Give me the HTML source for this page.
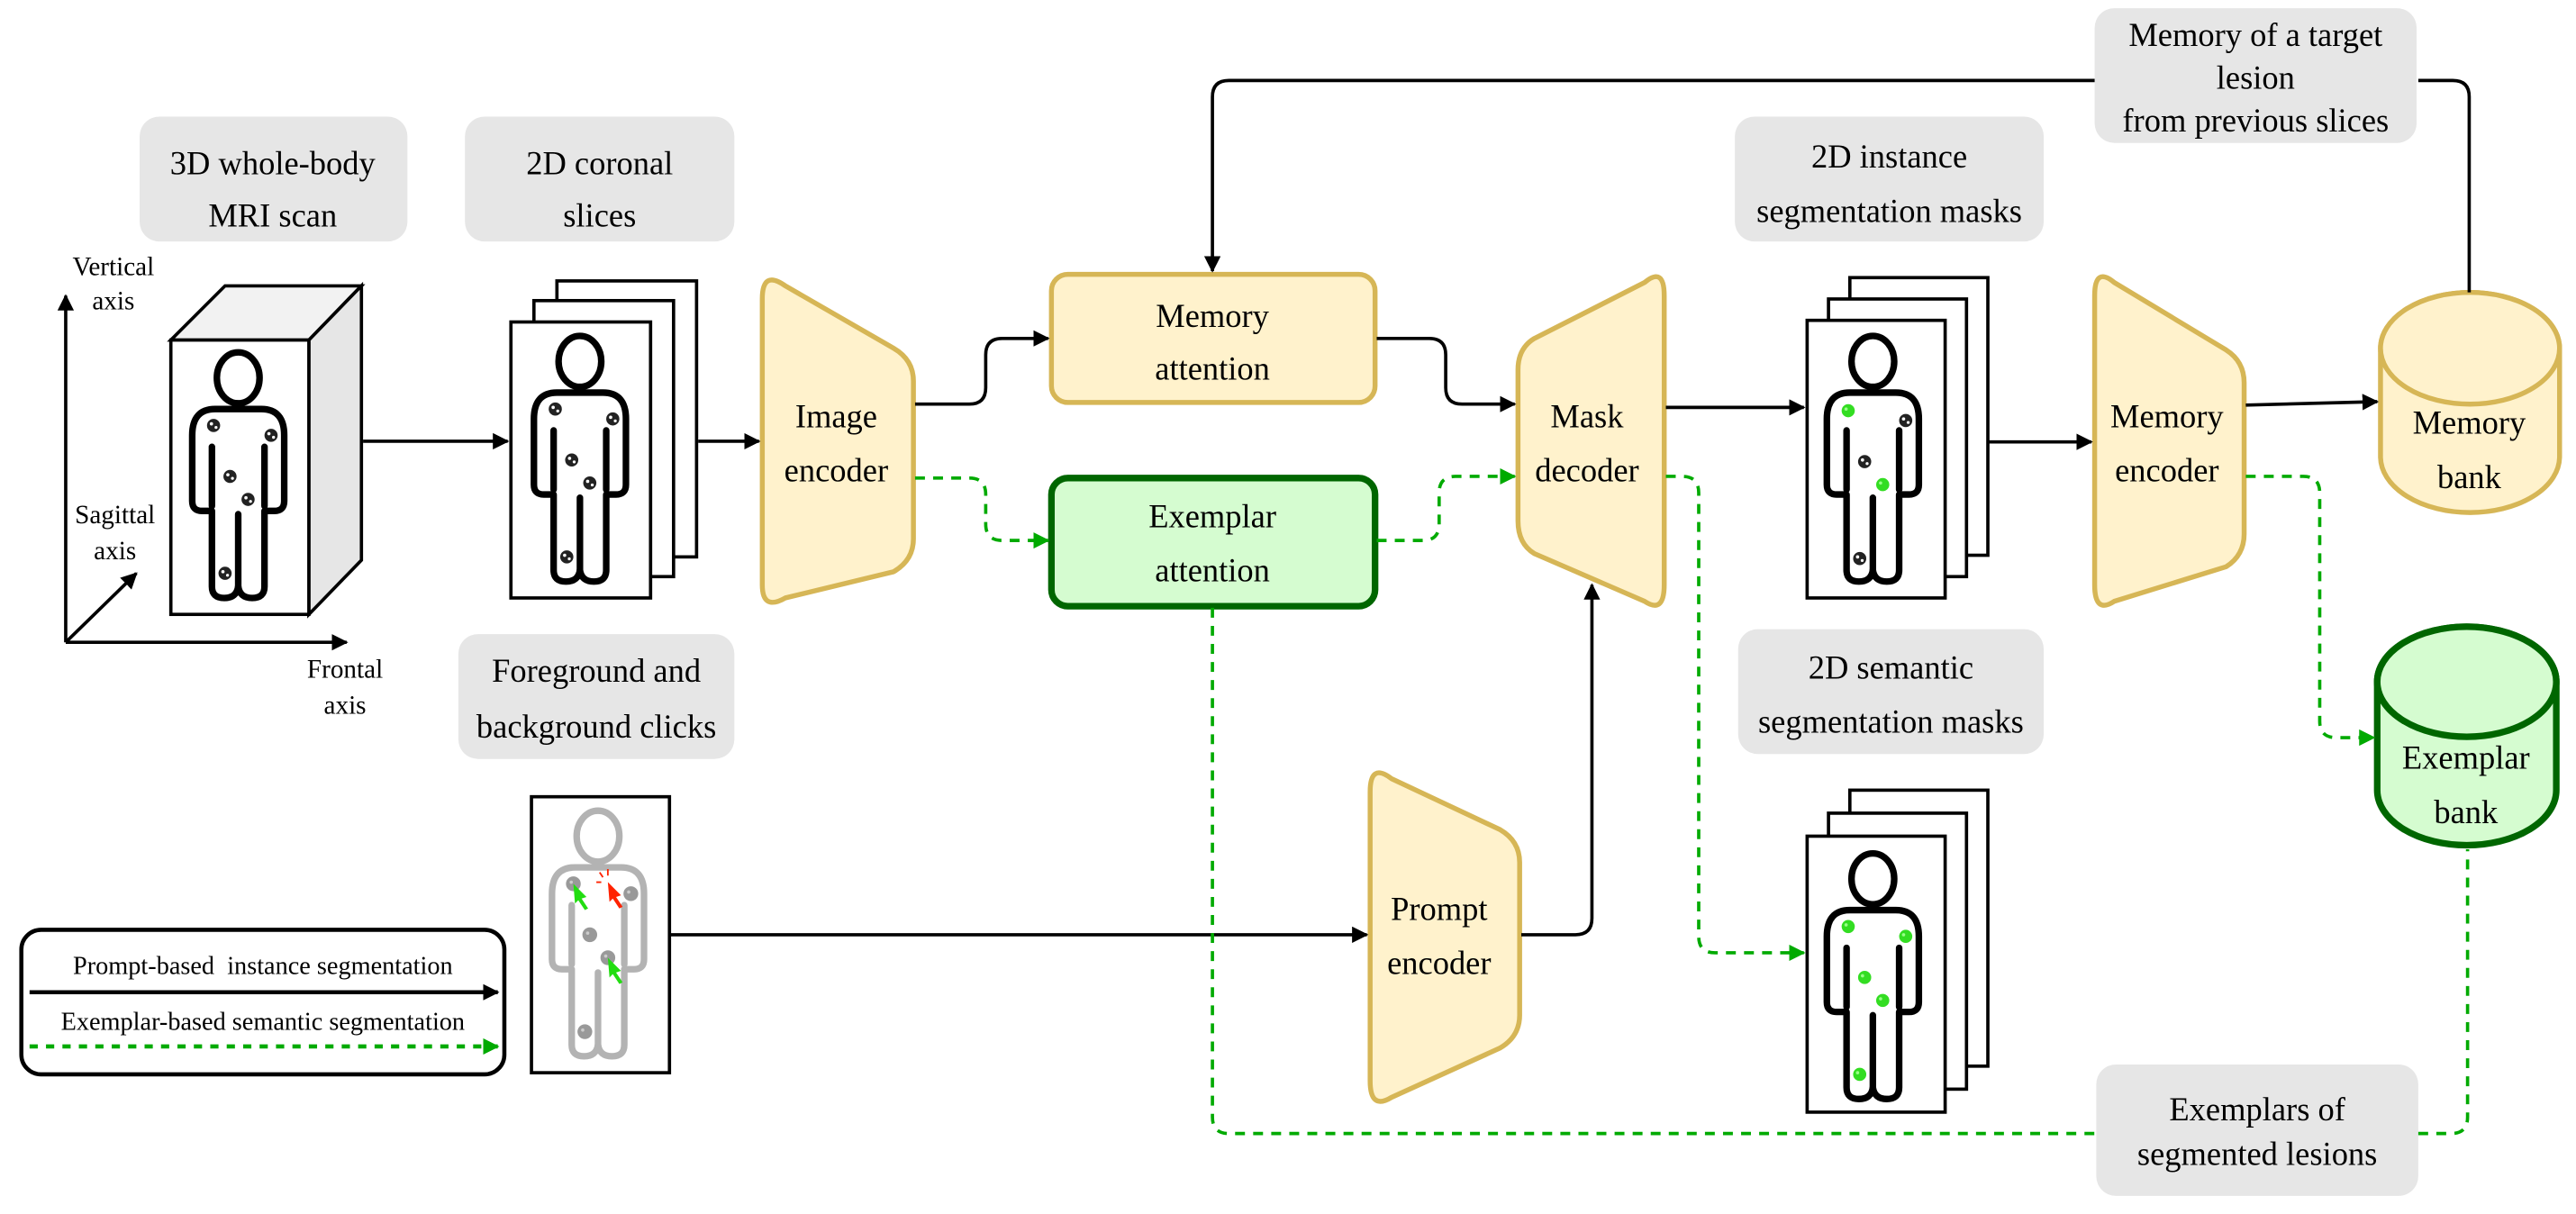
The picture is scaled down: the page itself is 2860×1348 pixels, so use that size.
<!DOCTYPE html>
<html><head><meta charset="utf-8"><style>
html,body{margin:0;padding:0;background:#fff;}
svg{display:block;position:absolute;left:0;top:0;}
#ov{position:absolute;left:0;top:0;width:1568px;height:739px;transform:scale(1.82398,1.82409);transform-origin:0 0;}
#ov div{position:absolute;white-space:nowrap;font-family:"Liberation Serif","Times New Roman",serif;color:#000;line-height:1;transform:translate(-50%,-85%);font-size:20px;}
#ov div.s{font-size:16px;}
#ov div.l{font-size:15.5px;}
</style></head><body>
<svg width="2860" height="1348" viewBox="0 0 1568 739" preserveAspectRatio="none" xmlns="http://www.w3.org/2000/svg">
<defs>
<marker id="ab" markerWidth="10" markerHeight="10" refX="9" refY="5" orient="auto" markerUnits="userSpaceOnUse"><path d="M0,0 L10,5 L0,10 Z" fill="#000"/></marker>
<marker id="ag" markerWidth="10" markerHeight="10" refX="9" refY="5" orient="auto" markerUnits="userSpaceOnUse"><path d="M0,0 L10,5 L0,10 Z" fill="#00aa00"/></marker>
<g id="hb">
<ellipse cx="30" cy="17" rx="13" ry="15.5" fill="#fff" stroke="#000" stroke-width="4"/>
<path d="M30,36 L16,36 Q2,36 2,52 L2,92 Q2,98 8,98 L14,98 L14,144 Q14,151 21.5,151 Q29,151 30,144 Q31,151 38.5,151 Q46,151 46,144 L46,98 L52,98 Q58,98 58,92 L58,52 Q58,36 44,36 Z" fill="#fff" stroke="#000" stroke-width="4" stroke-linejoin="round"/>
<path d="M14,59 L14,95 M46,59 L46,95 M30,100 L30,146" stroke="#000" stroke-width="4" stroke-linecap="round" fill="none"/>
</g>
<g id="hg">
<ellipse cx="30" cy="17" rx="13" ry="15.5" fill="#fff" stroke="#b3b3b3" stroke-width="4"/>
<path d="M30,36 L16,36 Q2,36 2,52 L2,92 Q2,98 8,98 L14,98 L14,144 Q14,151 21.5,151 Q29,151 30,144 Q31,151 38.5,151 Q46,151 46,144 L46,98 L52,98 Q58,98 58,92 L58,52 Q58,36 44,36 Z" fill="#fff" stroke="#b3b3b3" stroke-width="4" stroke-linejoin="round"/>
<path d="M14,59 L14,95 M46,59 L46,95 M30,100 L30,146" stroke="#b3b3b3" stroke-width="4" stroke-linecap="round" fill="none"/>
</g>
<g id="lk"><circle r="4" fill="#222"/><circle cx="-1.3" cy="-1" r="1" fill="#fff"/><circle cx="1.5" cy="1.2" r="0.9" fill="#fff"/></g>
<g id="lg"><circle r="4" fill="#33dd22"/><circle cx="-1.3" cy="-1" r="1" fill="#99ff88"/></g>
<g id="lgr"><circle r="4.5" fill="#999"/><circle cx="-1.3" cy="-1" r="1" fill="#ccc"/></g>
</defs>

<g fill="#e6e6e6">
<rect x="85" y="71" width="163" height="76" rx="12"/>
<rect x="283" y="71" width="164" height="76" rx="12"/>
<rect x="1275" y="5" width="196" height="82" rx="12"/>
<rect x="1056" y="71" width="188" height="76" rx="12"/>
<rect x="279" y="386" width="168" height="76" rx="12"/>
<rect x="1058" y="383" width="186" height="76" rx="12"/>
<rect x="1276" y="648" width="196" height="80" rx="12"/>
</g>

<g stroke="#000" stroke-width="2" fill="none">
<path d="M40,391 L40,180" marker-end="url(#ab)"/>
<path d="M40,391 L211,391" marker-end="url(#ab)"/>
<path d="M40,391 L83,349" marker-end="url(#ab)"/>
</g>

<path d="M104,207 L137,174 L220,174 L188,207 Z" fill="#f2f2f2" stroke="#000" stroke-width="2"/>
<path d="M188,207 L220,174 L220,341 L188,374 Z" fill="#e6e6e6" stroke="#000" stroke-width="2"/>
<rect x="104" y="207" width="84" height="167" fill="#fff" stroke="#000" stroke-width="2"/>
<use href="#hb" x="115" y="213"/>
<g transform="translate(115,213)"><use href="#lk" x="15" y="46"/><use href="#lk" x="50" y="52"/><use href="#lk" x="25" y="77"/><use href="#lk" x="36" y="91"/><use href="#lk" x="22" y="136"/></g>

<g fill="#fff" stroke="#000" stroke-width="2">
<rect x="339" y="171" width="85" height="168"/>
<rect x="325" y="183" width="85" height="168"/>
<rect x="311" y="196" width="85" height="168"/>
</g>
<use href="#hb" x="323" y="203"/>
<g transform="translate(323,203)"><use href="#lk" x="15" y="46"/><use href="#lk" x="50" y="52"/><use href="#lk" x="25" y="77"/><use href="#lk" x="36" y="91"/><use href="#lk" x="22" y="136"/></g>

<g fill="#fff" stroke="#000" stroke-width="2">
<rect x="1126" y="169" width="84" height="169"/>
<rect x="1113" y="182" width="84" height="169"/>
<rect x="1100" y="195" width="84" height="169"/>
</g>
<use href="#hb" x="1110" y="203"/>
<g transform="translate(1110,203)"><use href="#lg" x="15" y="47"/><use href="#lk" x="50" y="53"/><use href="#lk" x="25" y="78"/><use href="#lg" x="36" y="92"/><use href="#lk" x="22" y="137"/></g>

<g fill="#fff" stroke="#000" stroke-width="2">
<rect x="1126" y="481" width="84" height="168"/>
<rect x="1113" y="495" width="84" height="168"/>
<rect x="1100" y="509" width="84" height="168"/>
</g>
<use href="#hb" x="1110" y="518"/>
<g transform="translate(1110,518)"><use href="#lg" x="15" y="46"/><use href="#lg" x="50" y="52"/><use href="#lg" x="25" y="77"/><use href="#lg" x="36" y="91"/><use href="#lg" x="22" y="136"/></g>

<rect x="323.5" y="485" width="84" height="168" fill="#fff" stroke="#000" stroke-width="2"/>
<use href="#hg" x="334" y="492"/>
<g transform="translate(334,492)"><use href="#lgr" x="15" y="46"/><use href="#lgr" x="50" y="52"/><use href="#lgr" x="25" y="77"/><use href="#lgr" x="36" y="91"/><use href="#lgr" x="22" y="136"/>
<path d="M15,46 L23,54 L20,55 L24,61 L22,62 L18,56 L16,58 Z" fill="#22dd11"/>
<path d="M36,91 L44,99 L41,100 L45,106 L43,107 L39,101 L37,103 Z" fill="#22dd11"/>
<path d="M36,45 L44,53 L41,54 L45,60 L43,61 L39,55 L37,57 Z" fill="#ff2200"/>
<path d="M33,42 L31,39 M36,41 L36,37 M32,45 L29,45" stroke="#ff2200" stroke-width="1"/></g>

<rect x="13" y="566" width="294" height="88" rx="12" fill="#fff" stroke="#000" stroke-width="2.5"/>
<path d="M18,604 L303,604" stroke="#000" stroke-width="2.5" marker-end="url(#ab)"/>
<path d="M18,637 L303,637" stroke="#00aa00" stroke-width="2.5" stroke-dasharray="5,5" marker-end="url(#ag)"/>

<g fill="#fff2cc" stroke="#d6b656" stroke-width="3" stroke-linejoin="round">
<path d="M464,182 Q464,164 478,174 L544,212 Q556,219 556,232 L556,328 Q556,341 544,348 L478,364 Q464,372 464,356 Z"/>
<path d="M1013,180 Q1013,162 1001,172 L934,206 Q924,212 924,225 L924,317 Q924,331 934,337 L1001,366 Q1013,374 1013,356 Z"/>
<path d="M1275,180 Q1275,162 1287,172 L1355,213 Q1366,220 1366,233 L1366,325 Q1366,338 1355,345 L1287,366 Q1275,374 1275,356 Z"/>
<path d="M834,482 Q834,464 847,474 L913,505 Q925,512 925,525 L925,618 Q925,631 913,638 L847,668 Q834,676 834,658 Z"/>
<rect x="640" y="167" width="197" height="78" rx="10"/>
</g>
<rect x="640" y="291" width="197" height="78" rx="10" fill="#d5fcd0" stroke="#006600" stroke-width="4"/>
<path d="M1449,212 A54.5,34 0 0 1 1558,212 L1558,278 A54.5,34 0 0 1 1449,278 Z" fill="#fff2cc" stroke="#d6b656" stroke-width="3"/>
<ellipse cx="1503.5" cy="212" rx="54.5" ry="34" fill="#fff2cc" stroke="#d6b656" stroke-width="3"/>
<path d="M1447,415 A54.5,33.5 0 0 1 1556,415 L1556,481 A54.5,33.5 0 0 1 1447,481 Z" fill="#d5fcd0" stroke="#006600" stroke-width="4"/>
<ellipse cx="1501.5" cy="415" rx="54.5" ry="33.5" fill="#d5fcd0" stroke="#006600" stroke-width="4"/>

<g stroke="#000" stroke-width="2" fill="none">
<path d="M221,268.6 L309,268.6" marker-end="url(#ab)"/>
<path d="M425,268.6 L462,268.6" marker-end="url(#ab)"/>
<path d="M557,246 L590,246 Q600,246 600,236 L600,216 Q600,206 610,206 L638,206" marker-end="url(#ab)"/>
<path d="M838,206 L870,206 Q880,206 880,216 L880,236 Q880,246 890,246 L922,246" marker-end="url(#ab)"/>
<path d="M1014,248 L1098,248" marker-end="url(#ab)"/>
<path d="M1210,269 L1273,269" marker-end="url(#ab)"/>
<path d="M1367,246.6 L1447,244.5" marker-end="url(#ab)"/>
<path d="M1503,178 L1503,59 Q1503,49 1493,49 L1472,49"/>
<path d="M1275,49 L748,49 Q738,49 738,59 L738,165" marker-end="url(#ab)"/>
<path d="M408,569 L832,569" marker-end="url(#ab)"/>
<path d="M926,569 L959,569 Q969,569 969,559 L969,356" marker-end="url(#ab)"/>
</g>
<g stroke="#00aa00" stroke-width="2" fill="none" stroke-dasharray="6,5">
<path d="M557,291 L590,291 Q600,291 600,301 L600,319 Q600,329 610,329 L638,329" marker-end="url(#ag)"/>
<path d="M838,329 L866,329 Q876,329 876,319 L876,300 Q876,290 886,290 L922,290" marker-end="url(#ag)"/>
<path d="M1014,290 L1024,290 Q1034,290 1034,300 L1034,570 Q1034,580 1044,580 L1098,580" marker-end="url(#ag)"/>
<path d="M1367,290 L1402,290 Q1412,290 1412,300 L1412,439 Q1412,449 1422,449 L1445,449" marker-end="url(#ag)"/>
<path d="M738,370 L738,680 Q738,690 748,690 L1275,690"/>
<path d="M1472,690 L1492,690 Q1502,690 1502,680 L1502,517"/>
</g>
</svg>

<div id="ov">
<div style="left:166px;top:107px">3D whole-body</div><div style="left:166px;top:139px">MRI scan</div>
<div style="left:365px;top:107px">2D coronal</div><div style="left:365px;top:139px">slices</div>
<div style="left:1373px;top:29px">Memory of a target</div><div style="left:1373px;top:55px">lesion</div><div style="left:1373px;top:81px">from previous slices</div>
<div style="left:1150px;top:103px">2D instance</div><div style="left:1150px;top:136px">segmentation masks</div>
<div style="left:363px;top:416px">Foreground and</div><div style="left:363px;top:450px">background clicks</div>
<div style="left:1151px;top:414px">2D semantic</div><div style="left:1151px;top:447px">segmentation masks</div>
<div style="left:1374px;top:683px">Exemplars of</div><div style="left:1374px;top:710px">segmented lesions</div>
<div class="s" style="left:69px;top:169px">Vertical</div><div class="s" style="left:69px;top:190px">axis</div>
<div class="s" style="left:70px;top:320px">Sagittal</div><div class="s" style="left:70px;top:342px">axis</div>
<div class="s" style="left:210px;top:414px">Frontal</div><div class="s" style="left:210px;top:436px">axis</div>
<div class="l" style="left:160px;top:594px">Prompt-based&nbsp; instance segmentation</div>
<div class="l" style="left:160px;top:628px">Exemplar-based semantic segmentation</div>
<div style="left:509px;top:261px">Image</div><div style="left:509px;top:294px">encoder</div>
<div style="left:738px;top:200px">Memory</div><div style="left:738px;top:232px">attention</div>
<div style="left:738px;top:322px">Exemplar</div><div style="left:738px;top:355px">attention</div>
<div style="left:966px;top:261px">Mask</div><div style="left:966px;top:294px">decoder</div>
<div style="left:1319px;top:261px">Memory</div><div style="left:1319px;top:294px">encoder</div>
<div style="left:876px;top:561px">Prompt</div><div style="left:876px;top:594px">encoder</div>
<div style="left:1503px;top:265px">Memory</div><div style="left:1503px;top:298px">bank</div>
<div style="left:1501px;top:469px">Exemplar</div><div style="left:1501px;top:502px">bank</div>
</div>
</body></html>
